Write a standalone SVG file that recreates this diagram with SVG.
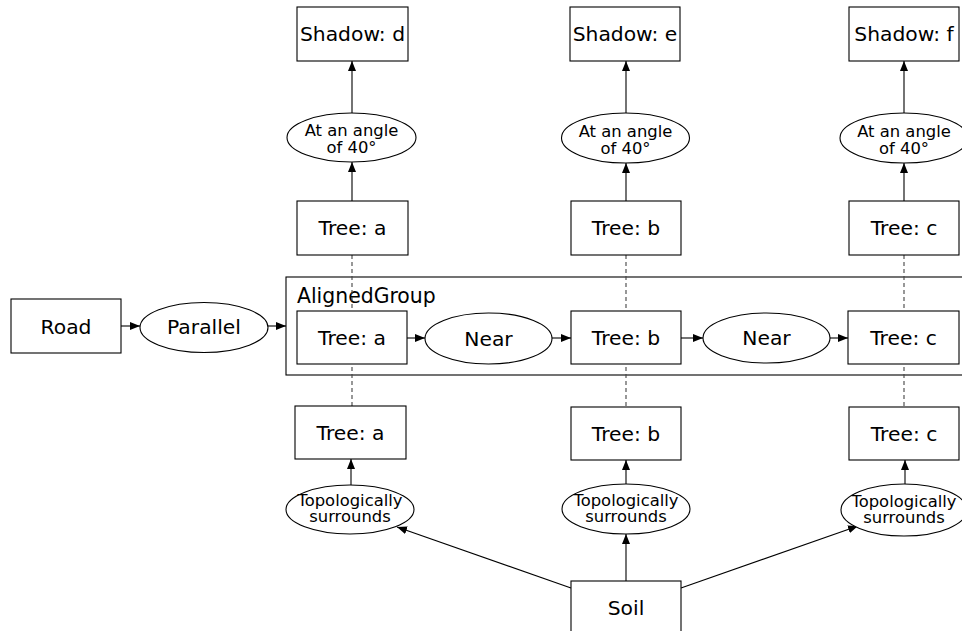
<svg xmlns="http://www.w3.org/2000/svg" width="962" height="631" viewBox="0 0 962 631">
<defs>
<marker id="ah" viewBox="0 0 10 8" refX="10" refY="4" markerWidth="10" markerHeight="8" markerUnits="userSpaceOnUse" orient="auto">
<path d="M0,0 L10,4 L0,8 Z" fill="#000"/>
</marker>
<style>
.box{fill:#fff;stroke:#000;stroke-width:1.1}
.ell{fill:#fff;stroke:#000;stroke-width:1.1}
.t{font-family:"DejaVu Sans",sans-serif;font-size:20.3px;fill:#000;text-anchor:middle}
.s{font-family:"DejaVu Sans",sans-serif;font-size:16.4px;fill:#000;text-anchor:middle}
.e{stroke:#000;stroke-width:1.1;fill:none;marker-end:url(#ah)}
.d{stroke:#444;stroke-width:1.1;fill:none;stroke-dasharray:4,3}
</style>
</defs>
<rect width="962" height="631" fill="#fff"/>
<g id="group-aligned">
<rect class="box" x="286" y="277" width="690" height="98"/>
<text x="297" y="303" font-family="DejaVu Sans, sans-serif" font-size="20.4" fill="#000">AlignedGroup</text>
</g>
<g id="connectors">
<line class="d" x1="352" y1="255" x2="352" y2="406"/>
<line class="d" x1="626" y1="255" x2="626" y2="406"/>
<line class="d" x1="904" y1="255" x2="904" y2="406"/>
<line class="e" x1="121" y1="326" x2="140" y2="326"/>
<line class="e" x1="268" y1="326" x2="286" y2="326"/>
<line class="e" x1="407" y1="338" x2="425" y2="338"/>
<line class="e" x1="552" y1="338" x2="571" y2="338"/>
<line class="e" x1="681" y1="338" x2="703" y2="338"/>
<line class="e" x1="830" y1="338" x2="848" y2="338"/>
<line class="e" x1="352" y1="201" x2="352" y2="162"/>
<line class="e" x1="352" y1="113" x2="352" y2="61"/>
<line class="e" x1="626" y1="201" x2="626" y2="163"/>
<line class="e" x1="626" y1="113" x2="626" y2="61"/>
<line class="e" x1="904" y1="201" x2="904" y2="163"/>
<line class="e" x1="904" y1="113" x2="904" y2="61"/>
<line class="e" x1="351" y1="485" x2="351" y2="459"/>
<line class="e" x1="626" y1="484" x2="626" y2="460"/>
<line class="e" x1="905" y1="484" x2="905" y2="460"/>
<line class="e" x1="626" y1="581" x2="626" y2="534"/>
<line class="e" x1="571" y1="588" x2="397" y2="527"/>
<line class="e" x1="681" y1="588" x2="858" y2="526"/>
</g>
<g id="road"><rect class="box" x="11" y="299" width="110" height="54"/><text class="t" x="66" y="334">Road</text></g>
<g id="parallel"><ellipse class="ell" cx="204" cy="327.5" rx="64" ry="25"/><text class="t" x="204" y="334">Parallel</text></g>
<g id="tree-a-group"><rect class="box" x="297" y="311" width="110" height="53"/><text class="t" x="352" y="345">Tree: a</text></g>
<g id="near-1"><ellipse class="ell" cx="488.5" cy="338.5" rx="63.5" ry="25.5"/><text class="t" x="488.5" y="345.5">Near</text></g>
<g id="tree-b-group"><rect class="box" x="571" y="311" width="110" height="53"/><text class="t" x="626" y="345">Tree: b</text></g>
<g id="near-2"><ellipse class="ell" cx="766.5" cy="338" rx="63.5" ry="25"/><text class="t" x="766.5" y="345">Near</text></g>
<g id="tree-c-group"><rect class="box" x="848" y="311" width="111" height="53"/><text class="t" x="903.5" y="345">Tree: c</text></g>

<g id="shadow-d"><rect class="box" x="297" y="7" width="111" height="54"/><text class="t" x="352.5" y="41">Shadow: d</text></g>
<g id="angle-a"><ellipse class="ell" cx="351.5" cy="137.5" rx="64.5" ry="24.5"/><text class="s" x="351.5" y="136">At an angle</text><text class="s" x="351.5" y="153">of 40°</text></g>
<g id="tree-a-top"><rect class="box" x="297" y="201" width="111" height="54"/><text class="t" x="352.5" y="235">Tree: a</text></g>

<g id="shadow-e"><rect class="box" x="570" y="7" width="110" height="54"/><text class="t" x="625" y="41">Shadow: e</text></g>
<g id="angle-b"><ellipse class="ell" cx="625.5" cy="138" rx="64" ry="25"/><text class="s" x="625.5" y="136.5">At an angle</text><text class="s" x="625.5" y="153.5">of 40°</text></g>
<g id="tree-b-top"><rect class="box" x="571" y="201" width="110" height="54"/><text class="t" x="626" y="235">Tree: b</text></g>

<g id="shadow-f"><rect class="box" x="849" y="7" width="110" height="54"/><text class="t" x="904" y="41">Shadow: f</text></g>
<g id="angle-c"><ellipse class="ell" cx="904" cy="138" rx="64" ry="25"/><text class="s" x="904" y="136.5">At an angle</text><text class="s" x="904" y="153.5">of 40°</text></g>
<g id="tree-c-top"><rect class="box" x="849" y="201" width="110" height="54"/><text class="t" x="904" y="235">Tree: c</text></g>

<g id="tree-a-bottom"><rect class="box" x="295" y="406" width="111" height="53"/><text class="t" x="350.5" y="440">Tree: a</text></g>
<g id="topo-a"><ellipse class="ell" cx="350" cy="509.5" rx="64" ry="24.5"/><text class="s" x="350" y="506">Topologically</text><text class="s" x="350" y="522">surrounds</text></g>
<g id="tree-b-bottom"><rect class="box" x="571" y="407" width="110" height="53"/><text class="t" x="626" y="441">Tree: b</text></g>
<g id="topo-b"><ellipse class="ell" cx="626" cy="509" rx="64" ry="25"/><text class="s" x="626" y="505.5">Topologically</text><text class="s" x="626" y="521.5">surrounds</text></g>
<g id="tree-c-bottom"><rect class="box" x="849" y="407" width="110" height="53"/><text class="t" x="904" y="441">Tree: c</text></g>
<g id="topo-c"><ellipse class="ell" cx="904" cy="510" rx="63" ry="26"/><text class="s" x="904" y="506.5">Topologically</text><text class="s" x="904" y="522.5">surrounds</text></g>

<g id="soil"><rect class="box" x="571" y="581" width="110" height="55"/><text class="t" x="626" y="615">Soil</text></g>
</svg>
